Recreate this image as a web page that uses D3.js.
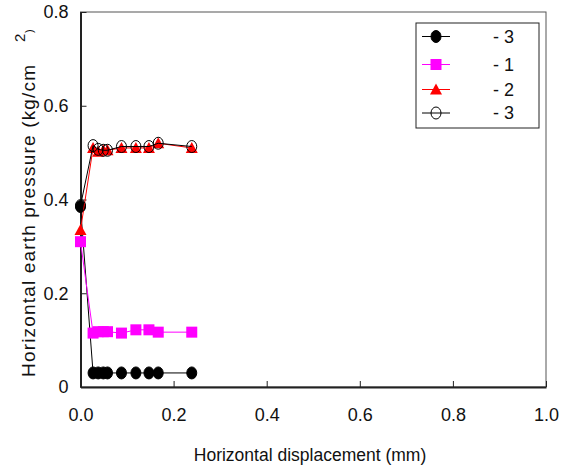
<!DOCTYPE html>
<html>
<head>
<meta charset="utf-8">
<script src="https://cdn.jsdelivr.net/npm/d3@7"></script>
<style>
  body { margin: 0; background: #fff; }
  svg { font-family: "Liberation Sans", Arial, sans-serif; }
</style>
</head>
<body>
<svg id="chart"></svg>
<script>
// data
var xFill = [0, 0.027, 0.038, 0.049, 0.058, 0.088, 0.119, 0.147, 0.167, 0.239];
var yFill = [0.385, 0.03, 0.03, 0.03, 0.03, 0.03, 0.03, 0.03, 0.03, 0.03];
var xSq = [0, 0.027, 0.038, 0.049, 0.058, 0.088, 0.119, 0.147, 0.167, 0.239];
var ySq = [0.31, 0.115, 0.118, 0.118, 0.118, 0.115, 0.122, 0.122, 0.117, 0.117];
var xTri = [0, 0.027, 0.038, 0.049, 0.058, 0.088, 0.119, 0.147, 0.167, 0.239];
var yTri = [0.335, 0.51, 0.502, 0.505, 0.505, 0.51, 0.51, 0.51, 0.52, 0.51];
var xOpen = [0, 0.027, 0.038, 0.049, 0.058, 0.088, 0.119, 0.147, 0.167, 0.239];
var yOpen = [0.387, 0.515, 0.507, 0.505, 0.505, 0.513, 0.513, 0.513, 0.52, 0.513];
var legendLabels = ["- 3", "- 1", "- 2", "- 3"];
var xTicks = [0, 0.2, 0.4, 0.6, 0.8, 1.0];
var yTicks = [0, 0.2, 0.4, 0.6, 0.8];

var width = 564, height = 468;
var svg = d3.select("#chart").attr("width", width).attr("height", height);

var x = d3.scaleLinear().domain([0, 1]).range([80.5, 546]);
var y = d3.scaleLinear().domain([0, 0.8]).range([387, 12]);

// frame
svg.append("rect").attr("x", x(0)).attr("y", y(0.8))
  .attr("width", x(1) - x(0)).attr("height", y(0) - y(0.8))
  .attr("fill", "none").attr("stroke", "#555").attr("stroke-width", 1);

// axes, ticks pointing inward
var xAxis = svg.append("g").attr("transform", "translate(0," + y(0) + ")")
  .call(d3.axisBottom(x).tickValues(xTicks).tickSizeInner(-6).tickSizeOuter(0)
    .tickPadding(21).tickFormat(d3.format(".1f")));
var yAxis = svg.append("g").attr("transform", "translate(" + x(0) + ",0)")
  .call(d3.axisLeft(y).tickValues(yTicks).tickSizeInner(-6).tickSizeOuter(0)
    .tickPadding(12).tickFormat(function(d){ return d === 0 ? "0" : d3.format(".1f")(d); }));
[xAxis, yAxis].forEach(function(g){
  g.select(".domain").attr("stroke", "#222").attr("stroke-width", 2);
  g.selectAll(".tick line").attr("stroke", "#222");
  g.selectAll(".tick text").attr("font-size", 18).attr("fill", "#111")
    .attr("font-family", "Liberation Sans, Arial, sans-serif");
});

// titles
svg.append("text").attr("x", 310).attr("y", 461).attr("text-anchor", "middle")
  .attr("font-size", 17.5).attr("fill", "#111").text("Horizontal displacement (mm)");
svg.append("text").attr("transform", "translate(35,377) rotate(-90)")
  .attr("font-size", 19).attr("fill", "#111")
  .attr("textLength", 312).attr("lengthAdjust", "spacing")
  .text("Horizontal earth pressure (kg/cm");
svg.append("text").attr("transform", "translate(25,42) rotate(-90)")
  .attr("font-size", 15).attr("fill", "#111").text("2");
svg.append("text").attr("transform", "translate(33,33) rotate(-90)")
  .attr("font-size", 11).attr("fill", "#111").text(")");

var line = d3.line().x(function(d){ return x(d[0]); }).y(function(d){ return y(d[1]); });
function pts(xs, ys){ return xs.map(function(v, i){ return [v, ys[i]]; }); }

var series = [
  { data: pts(xFill, yFill), color: "#000", shape: "circle", fill: "#000" },
  { data: pts(xSq, ySq), color: "#ff00ff", shape: "square", fill: "#ff00ff" },
  { data: pts(xTri, yTri), color: "#ff0000", shape: "triangle", fill: "#ff0000" },
  { data: pts(xOpen, yOpen), color: "#000", shape: "circle", fill: "none" }
];

function marker(g, s, cx, cy){
  if (s.shape === "circle") {
    g.append("ellipse").attr("cx", cx).attr("cy", cy).attr("rx", 5).attr("ry", 6)
      .attr("fill", s.fill).attr("stroke", "#000").attr("stroke-width", 1);
  } else if (s.shape === "square") {
    g.append("rect").attr("x", cx - 5.5).attr("y", cy - 5.5).attr("width", 11).attr("height", 11)
      .attr("fill", s.fill);
  } else {
    g.append("path").attr("d", "M" + cx + "," + (cy - 6) + "L" + (cx + 6) + "," + (cy + 5) + "L" + (cx - 6) + "," + (cy + 5) + "Z")
      .attr("fill", s.fill);
  }
}

series.forEach(function(s){
  var g = svg.append("g");
  g.append("path").datum(s.data).attr("d", line).attr("fill", "none")
    .attr("stroke", s.color).attr("stroke-width", 1);
  s.data.forEach(function(d){ marker(g, s, x(d[0]), y(d[1])); });
});

// legend
var lg = svg.append("g");
lg.append("rect").attr("x", 416).attr("y", 23).attr("width", 123).attr("height", 105)
  .attr("fill", "#fff").attr("stroke", "#222").attr("stroke-width", 1);
var rowY = [36.5, 64.5, 89.5, 113];
series.forEach(function(s, i){
  lg.append("line").attr("x1", 422).attr("x2", 450).attr("y1", rowY[i]).attr("y2", rowY[i])
    .attr("stroke", s.color).attr("stroke-width", 1);
  marker(lg, s, 436, rowY[i]);
  lg.append("text").attr("x", 493).attr("y", rowY[i]).attr("dy", "0.35em")
    .attr("font-size", 18).attr("fill", "#111").text(legendLabels[i]);
});
</script>
</body>
</html>
